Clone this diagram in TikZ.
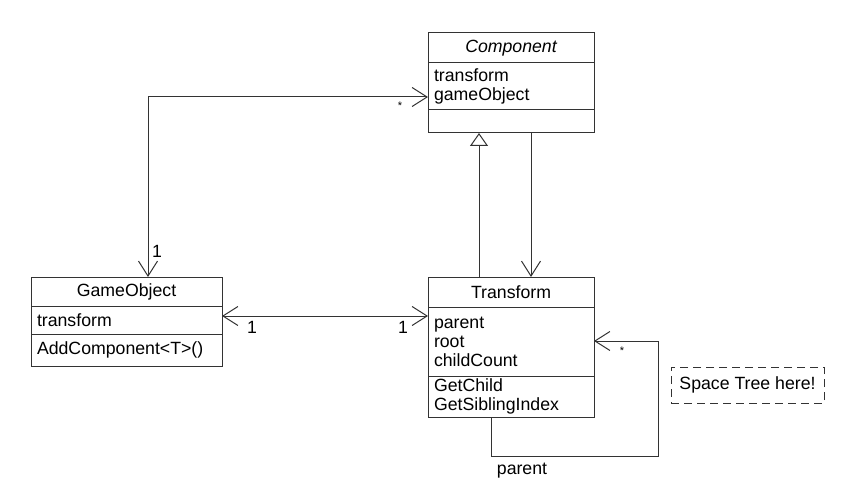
\documentclass[tikz,border=0pt]{standalone}
\usepackage{fontspec}
\setmainfont{Liberation Sans}
\usetikzlibrary{positioning,arrows.meta}

\tikzset{
  uml/.style={draw=black!80,line width=1pt,inner xsep=6pt,inner ysep=2pt,outer sep=0pt,
    font=\fontsize{17.7}{19}\selectfont},
  title/.style={uml,align=center},
  part/.style={uml,align=left,anchor=north},
  assoc/.style={draw=black!80,line width=1pt,{Straight Barb[length=15pt,width=19pt]}-{Straight Barb[length=15pt,width=19pt]}},
  navi/.style={draw=black!80,line width=1pt,-{Straight Barb[length=15pt,width=19pt]}},
  inherit/.style={draw=black!80,line width=1pt,-{Triangle[open,length=13pt,width=18pt,fill=white]}},
  mult/.style={anchor=base,font=\fontsize{17.7}{19}\selectfont,inner sep=0pt},
  star/.style={anchor=base,font=\fontsize{11}{12}\selectfont,inner sep=0pt}
}

\begin{document}
\begin{tikzpicture}[x=1pt,y=-1pt]
\useasboundingbox[fill=white] (0,0) rectangle (853,486);

% Component
\node[title,minimum width=166,minimum height=30,font=\fontsize{17.7}{19}\selectfont\itshape] (compTitle) at (511,48) {Component};
\node[part,text width=154,minimum height=47,below=0pt of compTitle] (compAttr) {transform\\gameObject};
\node[part,text width=154,minimum height=23,below=0pt of compAttr] (compOps) {};

% GameObject
\node[title,minimum width=191,minimum height=29] (goTitle) at (126.5,291.5) {GameObject};
\node[part,text width=179,minimum height=28,below=0pt of goTitle] (goAttr) {transform};
\node[part,text width=179,minimum height=32,below=0pt of goAttr] (goOps) {AddComponent<T>()};

% Transform
\node[title,minimum width=166,minimum height=30] (trTitle) at (511,292) {Transform};
\node[part,text width=154,minimum height=69,below=0pt of trTitle] (trAttr) {parent\\root\\childCount};
\node[part,text width=154,minimum height=41,below=0pt of trAttr] (trOps) {GetChild\\GetSiblingIndex};

% note
\node[draw=black!80,line width=1pt,dash pattern=on 8pt off 5pt,minimum width=153,minimum height=36,
  font=\fontsize{17.7}{19}\selectfont] (note) at (747.5,385) {Space Tree here!};

% bend points
\coordinate (b1) at (148,97);
\coordinate (b2) at (0,316);
\coordinate (b3) at (479,0);
\coordinate (b4) at (531,0);
\coordinate (b5) at (491,456);
\coordinate (b6) at (658,341);

% associations
\draw[assoc] (goTitle.north -| b1) |- (compAttr.west |- b1);
\draw[assoc] (goAttr.east |- b2) -- (trAttr.west |- b2);
\draw[inherit] (trTitle.north -| b3) -- (compOps.south -| b3);
\draw[navi] (compOps.south -| b4) -- (trTitle.north -| b4);
\draw[navi] (trOps.south -| b5) |- (b6 |- b5) -- (b6) -- (trAttr.east |- b6);

% labels
\node[mult] (m1) at (157,257) {1};
\node[star] (m2) at (400,110) {*};
\node[mult] (m3) at (252,333) {1};
\node[mult] (m4) at (403,333) {1};
\node[star] (m5) at (622,354) {*};
\node[mult] (m6) at (522,474) {parent};
\end{tikzpicture}
\end{document}
